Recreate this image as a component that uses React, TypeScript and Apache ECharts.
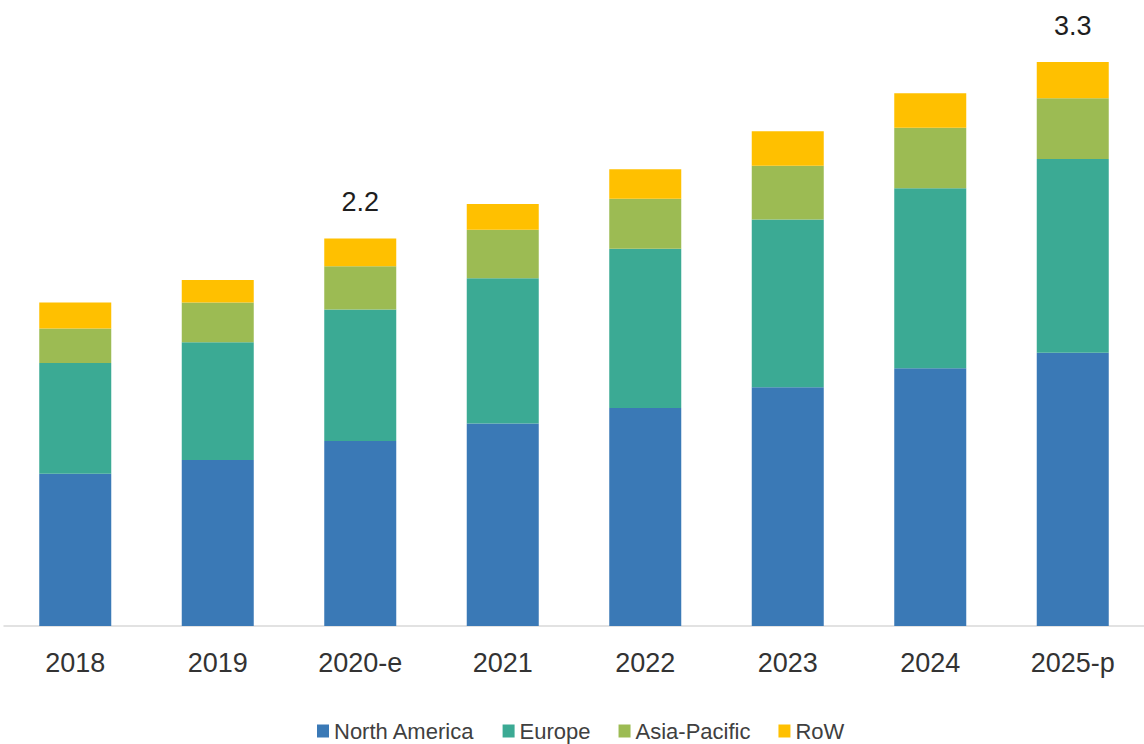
import React, { useEffect, useRef } from "react";
import * as echarts from "echarts";

const categories = ["2018", "2019", "2020-e", "2021", "2022", "2023", "2024", "2025-p"];
const northAmerica = [0.88, 0.96, 1.07, 1.17, 1.26, 1.38, 1.49, 1.58];
const europe = [0.64, 0.68, 0.76, 0.84, 0.92, 0.97, 1.04, 1.12];
const asiaPacific = [0.2, 0.23, 0.25, 0.28, 0.29, 0.31, 0.35, 0.35];
const row = [0.15, 0.13, 0.16, 0.15, 0.17, 0.2, 0.2, 0.21];
const labelledIndexes = [2, 7];

const FONT = "'Liberation Sans', Arial, sans-serif";

export default function App() {
  const ref = useRef<HTMLDivElement>(null);
  useEffect(() => {
    if (!ref.current) return;
    const chart = echarts.init(ref.current, undefined, { renderer: "svg" });
    const totals = categories.map((_, i) => northAmerica[i] + europe[i] + asiaPacific[i] + row[i]);
    const rowData = row.map((v, i) =>
      labelledIndexes.includes(i)
        ? {
            value: v,
            label: {
              show: true,
              position: "top",
              distance: 23,
              formatter: () => totals[i].toFixed(1),
              fontFamily: FONT,
              fontSize: 27,
              color: "#1e1e1e",
            },
          }
        : v
    );
    chart.setOption({
      animation: false,
      backgroundColor: "#ffffff",
      grid: { left: 4, width: 1147, top: 3.2, height: 622.8, containLabel: false },
      legend: {
        data: ["North America", "Europe", "Asia-Pacific", "RoW"],
        left: 312,
        top: 715,
        itemWidth: 12,
        itemHeight: 13,
        itemGap: 28,
        icon: "rect",
        textStyle: { fontFamily: FONT, fontSize: 22, color: "#404040" },
      },
      xAxis: {
        type: "category",
        data: categories,
        axisLine: { lineStyle: { color: "#d9d9d9", width: 1.5 } },
        axisTick: { show: false },
        axisLabel: { fontFamily: FONT, fontSize: 27, color: "#333333", margin: 23 },
      },
      yAxis: {
        type: "value",
        min: 0,
        max: 3.6,
        show: false,
        splitLine: { show: false },
      },
      series: [
        { name: "North America", type: "bar", stack: "s", barWidth: 72, data: northAmerica, itemStyle: { color: "#3A79B6" } },
        { name: "Europe", type: "bar", stack: "s", barWidth: 72, data: europe, itemStyle: { color: "#3BAA94" } },
        { name: "Asia-Pacific", type: "bar", stack: "s", barWidth: 72, data: asiaPacific, itemStyle: { color: "#9CBB53" } },
        { name: "RoW", type: "bar", stack: "s", barWidth: 72, data: rowData, itemStyle: { color: "#FFC000" } },
      ],
    });
    return () => chart.dispose();
  }, []);
  return (
    <div
      ref={ref}
      style={{ position: "absolute", left: 0, top: 0, width: 1144, height: 744, background: "#fff" }}
    />
  );
}
